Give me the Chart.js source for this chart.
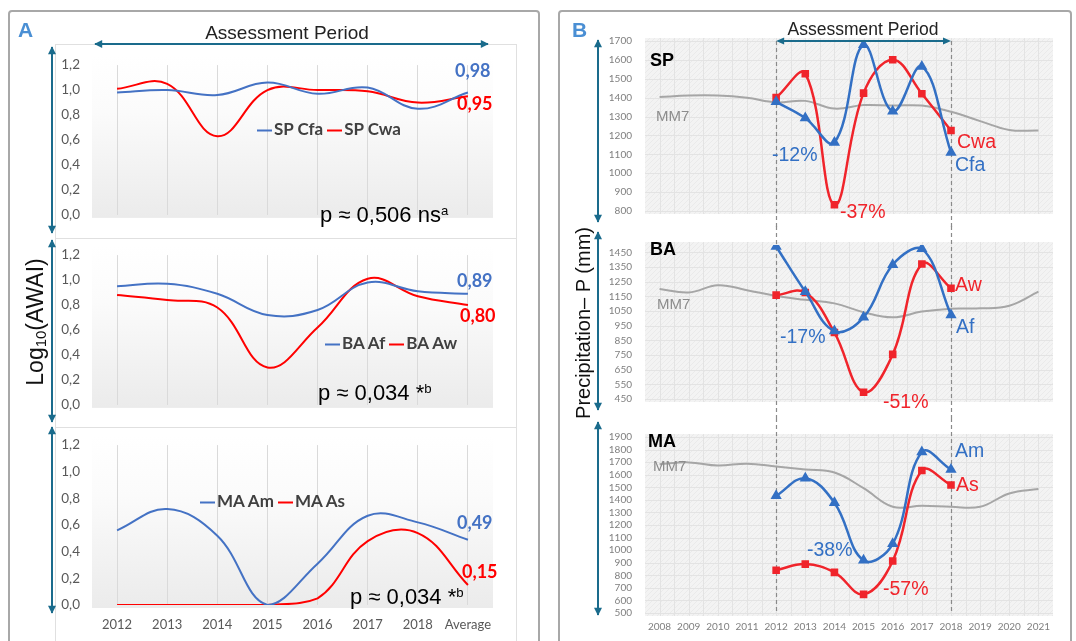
<!DOCTYPE html>
<html>
<head>
<meta charset="utf-8">
<script src="https://cdn.jsdelivr.net/npm/chart.js@4.4.1/dist/chart.umd.min.js"></script>
<style>
body{margin:0;background:#fff;}
#page{position:relative;width:1076px;height:641px;overflow:hidden;font-family:"Liberation Sans",Arial,sans-serif;}
canvas,.t,.box,.panel{position:absolute;}
.panel{border:2px solid #a8a8a8;border-radius:4px;box-sizing:border-box;}
.box{border:1px solid #e0e0e0;box-sizing:border-box;}
.t{white-space:nowrap;line-height:1;transform:translateY(-50%);}
.c{transform:translate(-50%,-50%);}
.rot{transform:translate(-50%,-50%) rotate(-90deg);}
.lato{font-family:Lato,sans-serif;}
.leg{font-family:Lato,sans-serif;font-weight:700;font-size:17px;color:#404040;}
.leg i{display:inline-block;width:15px;height:2px;vertical-align:middle;margin:0 2px 0 4px;}
sup{font-size:0.6em;vertical-align:0.55em;}
sub{font-size:0.65em;vertical-align:-0.2em;}
.blueA{color:#4472c4}.redA{color:#ff0000}
.blueB{color:#3370c4}.redB{color:#f0242b}
</style>
</head>
<body>
<div id="page">
  <div class="panel" style="left:8px;top:10px;width:532px;height:645px"></div>
  <div class="panel" style="left:558px;top:10px;width:514px;height:645px"></div>
  <div class="box" style="left:55px;top:44px;width:462px;height:195px"></div>
  <div class="box" style="left:55px;top:238px;width:462px;height:190px"></div>
  <div class="box" style="left:55px;top:427px;width:462px;height:220px"></div>

  <canvas id="a1" width="470" height="190" style="left:50px;top:45px"></canvas>
  <canvas id="a2" width="470" height="190" style="left:50px;top:235px"></canvas>
  <canvas id="a3" width="470" height="215" style="left:50px;top:425px"></canvas>
  <canvas id="b1" width="470" height="212" style="left:600px;top:18px"></canvas>
  <canvas id="b2" width="470" height="192" style="left:600px;top:226px"></canvas>
  <canvas id="b3" width="470" height="222" style="left:600px;top:418px"></canvas>

  <svg width="1076" height="641" style="position:absolute;left:0;top:0">
    <defs>
      <marker id="ah" viewBox="0 0 10 10" refX="9" refY="5" markerUnits="userSpaceOnUse" markerWidth="9" markerHeight="8" orient="auto-start-reverse">
        <path d="M0,0 L10,5 L0,10 z" fill="#1a6b8c"/>
      </marker>
    </defs>
    <g stroke="#1a6b8c" stroke-width="2" marker-start="url(#ah)" marker-end="url(#ah)">
      <line x1="95" y1="44" x2="488" y2="44"/>
      <line x1="52" y1="47" x2="52" y2="233"/>
      <line x1="52" y1="240" x2="52" y2="422"/>
      <line x1="52" y1="427" x2="52" y2="613"/>
      <line x1="598" y1="40" x2="598" y2="222"/>
      <line x1="598" y1="232" x2="598" y2="410"/>
      <line x1="598" y1="422" x2="598" y2="615"/>
    </g>
  </svg>

  <div class="t" style="left:18px;top:29px;font-weight:700;font-size:21px;color:#4a8fd4">A</div>
  <div class="t" style="left:572px;top:29px;font-weight:700;font-size:21px;color:#4a8fd4">B</div>
  <div class="t c" style="left:287px;top:32px;font-size:19px;color:#222">Assessment Period</div>
  <div class="t c" style="left:863px;top:30px;font-size:17.5px;color:#222">Assessment Period</div>
  <div class="t rot" style="left:36px;top:322px;font-size:23px;color:#111">Log<sub>10</sub>(AWAI)</div>
  <div class="t rot" style="left:583px;top:323px;font-size:20px;color:#111">Precipitation– P (mm)</div>

  <div class="t leg" style="left:253px;top:128px"><i style="background:#4472c4"></i>SP Cfa<i style="background:#ff0000"></i>SP Cwa</div>
  <div class="t leg" style="left:321px;top:342px"><i style="background:#4472c4"></i>BA Af<i style="background:#ff0000"></i>BA Aw</div>
  <div class="t leg" style="left:196px;top:500px"><i style="background:#4472c4"></i>MA Am<i style="background:#ff0000"></i>MA As</div>

  <div class="t lato blueA" style="left:455px;top:70px;font-weight:700;font-size:18px">0,98</div>
  <div class="t lato redA" style="left:457px;top:103px;font-weight:700;font-size:18px">0,95</div>
  <div class="t lato blueA" style="left:457px;top:280px;font-weight:700;font-size:18px">0,89</div>
  <div class="t lato redA" style="left:460px;top:315px;font-weight:700;font-size:18px">0,80</div>
  <div class="t lato blueA" style="left:457px;top:522px;font-weight:700;font-size:18px">0,49</div>
  <div class="t lato redA" style="left:462px;top:571px;font-weight:700;font-size:18px">0,15</div>

  <div class="t" style="left:320px;top:215px;font-size:22px;color:#000">p ≈ 0,506 ns<sup>a</sup></div>
  <div class="t" style="left:318px;top:393px;font-size:22px;color:#000">p ≈ 0,034 *<sup>b</sup></div>
  <div class="t" style="left:350px;top:597px;font-size:22px;color:#000">p ≈ 0,034 *<sup>b</sup></div>

  <div class="t" style="left:650px;top:60px;font-weight:700;font-size:18px;color:#000">SP</div>
  <div class="t" style="left:650px;top:249px;font-weight:700;font-size:18px;color:#000">BA</div>
  <div class="t" style="left:648px;top:441px;font-weight:700;font-size:18px;color:#000">MA</div>
  <div class="t" style="left:656px;top:115px;font-size:15px;color:#8c8c8c">MM7</div>
  <div class="t" style="left:657px;top:303px;font-size:15px;color:#8c8c8c">MM7</div>
  <div class="t" style="left:653px;top:465px;font-size:15px;color:#8c8c8c">MM7</div>

  <div class="t blueB" style="left:772px;top:155px;font-size:19.5px">-12%</div>
  <div class="t redB" style="left:840px;top:212px;font-size:19.5px">-37%</div>
  <div class="t blueB" style="left:780px;top:337px;font-size:19.5px">-17%</div>
  <div class="t redB" style="left:883px;top:402px;font-size:19.5px">-51%</div>
  <div class="t blueB" style="left:807px;top:550px;font-size:19.5px">-38%</div>
  <div class="t redB" style="left:883px;top:589px;font-size:19.5px">-57%</div>
  <div class="t redB" style="left:957px;top:142px;font-size:19.5px">Cwa</div>
  <div class="t blueB" style="left:955px;top:165px;font-size:19.5px">Cfa</div>
  <div class="t redB" style="left:955px;top:285px;font-size:19.5px">Aw</div>
  <div class="t blueB" style="left:956px;top:327px;font-size:19.5px">Af</div>
  <div class="t blueB" style="left:955px;top:451px;font-size:19.5px">Am</div>
  <div class="t redB" style="left:956px;top:485px;font-size:19.5px">As</div>
</div>

<script>
// Panel A: log10(AWAI) per year
const yearsA = ['2012', '2013', '2014', '2015', '2016', '2017', '2018', 'Average'];
const spCfa = [0.98, 1.00, 0.96, 1.06, 0.97, 1.02, 0.85, 0.98];
const spCwa = [1.01, 1.05, 0.63, 1.00, 1.00, 0.99, 0.90, 0.95];
const baAf = [0.95, 0.97, 0.89, 0.72, 0.76, 0.98, 0.91, 0.89];
const baAw = [0.88, 0.84, 0.78, 0.30, 0.62, 1.01, 0.87, 0.80];
const maAm = [0.56, 0.72, 0.52, 0.00, 0.31, 0.67, 0.62, 0.49];
const maAs = [0.00, 0.00, 0.00, 0.00, 0.05, 0.48, 0.54, 0.15];
const ticksA = [0, 0.2, 0.4, 0.6, 0.8, 1.0, 1.2];

// Panel B: precipitation (mm)
const yearsB = ['2008', '2009', '2010', '2011', '2012', '2013', '2014', '2015', '2016', '2017', '2018', '2019', '2020', '2021'];
const spMM7 = [1403, 1411, 1411, 1399, 1375, 1383, 1342, 1361, 1358, 1358, 1325, 1276, 1229, 1226];
const spCfaP = [null, null, null, null, 1378, 1292, 1163, 1680, 1328, 1565, 1110, null, null, null];
const spCwaP = [null, null, null, null, 1400, 1527, 833, 1424, 1601, 1421, 1226, null, null, null];
const baMM7 = [1200, 1176, 1226, 1192, 1152, 1126, 1102, 1042, 1007, 1046, 1066, 1068, 1086, 1182];
const baAfP = [null, null, null, null, 1490, 1182, 913, 1007, 1365, 1475, 1023, null, null, null];
const baAwP = [null, null, null, null, 1158, 1176, 903, 496, 754, 1370, 1205, null, null, null];
const maMM7 = [1683, 1698, 1673, 1688, 1666, 1641, 1617, 1493, 1345, 1353, 1345, 1345, 1451, 1486];
const maAmP = [null, null, null, null, 1432, 1572, 1377, 919, 1050, 1780, 1641, null, null, null];
const maAsP = [null, null, null, null, 840, 889, 823, 648, 914, 1634, 1518, null, null, null];
const ticksSP = [800, 900, 1000, 1100, 1200, 1300, 1400, 1500, 1600, 1700];
const ticksBA = [450, 550, 650, 750, 850, 950, 1050, 1150, 1250, 1350, 1450];
const ticksMA = [500, 600, 700, 800, 900, 1000, 1100, 1200, 1300, 1400, 1500, 1600, 1700, 1800, 1900];
const periodStart = '2012', periodEnd = '2018';

Chart.defaults.animation = false;
Chart.defaults.font.family = 'Lato, "Liberation Sans", sans-serif';

const BLUE_A = '#4472c4', RED_A = '#ff0000';
const BLUE_B = '#3370c4', RED_B = '#f0242b', GRAY = '#a6a6a6', TEAL = '#1a6b8c';

// soft white-to-grey plot background of panel A
const bgA = {
  id: 'bgA',
  beforeDraw(chart) {
    const {ctx, chartArea: a} = chart;
    const top = a.top - 10, bot = a.bottom + 3;
    const gr = ctx.createLinearGradient(0, top, 0, bot);
    gr.addColorStop(0, '#ffffff');
    gr.addColorStop(0.35, '#fbfbfb');
    gr.addColorStop(1, '#ebebeb');
    ctx.save();
    ctx.fillStyle = gr;
    ctx.fillRect(a.left, top, a.right - a.left, bot - top);
    ctx.restore();
  }
};

// hatched grey plot background with a light grid for panel B
const hatch = document.createElement('canvas');
hatch.width = 5; hatch.height = 5;
(function () {
  const g = hatch.getContext('2d');
  g.fillStyle = '#f3f3f3'; g.fillRect(0, 0, 5, 5);
  g.strokeStyle = 'rgba(0,0,0,0.035)'; g.lineWidth = 1;
  g.beginPath(); g.moveTo(0, 5); g.lineTo(5, 0); g.stroke();
})();

const bgB = {
  id: 'bgB',
  beforeDraw(chart) {
    const {ctx, chartArea: a, scales: {x, y}} = chart;
    ctx.save();
    ctx.fillStyle = ctx.createPattern(hatch, 'repeat');
    ctx.fillRect(a.left, a.top - 3, a.right - a.left, a.bottom - a.top + 6);
    ctx.strokeStyle = '#e3e3e3';
    ctx.lineWidth = 1;
    ctx.beginPath();
    y.ticks.forEach(t => {
      const p = Math.round(y.getPixelForValue(t.value)) + 0.5;
      ctx.moveTo(a.left, p); ctx.lineTo(a.right, p);
    });
    const half = (x.getPixelForValue(1) - x.getPixelForValue(0)) / 2;
    for (let px = a.left + half; px < a.right - 1; px += half) {
      const p = Math.round(px) + 0.5;
      ctx.moveTo(p, a.top - 3); ctx.lineTo(p, a.bottom + 3);
    }
    ctx.stroke();
    ctx.restore();
  }
};

// dashed assessment-period bounds (and the arrow on the top chart)
const periodB = {
  id: 'periodB',
  beforeDatasetsDraw(chart, args, opts) {
    const {ctx, chartArea: a, scales: {x}} = chart;
    const x0 = Math.round(x.getPixelForValue(yearsB.indexOf(periodStart))) + 0.5;
    const x1 = Math.round(x.getPixelForValue(yearsB.indexOf(periodEnd))) + 0.5;
    const top = opts.fromTop ? 0 : a.top;
    const bot = opts.toBottom ? chart.height : a.bottom;
    ctx.save();
    ctx.strokeStyle = '#8a8a8a';
    ctx.lineWidth = 1.2;
    ctx.setLineDash([4, 3]);
    ctx.beginPath();
    ctx.moveTo(x0, top); ctx.lineTo(x0, bot);
    ctx.moveTo(x1, top); ctx.lineTo(x1, bot);
    ctx.stroke();
    ctx.restore();
  },
  afterDraw(chart, args, opts) {
    if (!opts.arrow) return;
    const {ctx, chartArea: a, scales: {x}} = chart;
    const x0 = x.getPixelForValue(yearsB.indexOf(periodStart));
    const x1 = x.getPixelForValue(yearsB.indexOf(periodEnd));
    const yy = a.top;
    ctx.save();
    ctx.strokeStyle = TEAL; ctx.fillStyle = TEAL; ctx.lineWidth = 1.8;
    ctx.beginPath(); ctx.moveTo(x0 + 4, yy); ctx.lineTo(x1 - 4, yy); ctx.stroke();
    ctx.beginPath();
    ctx.moveTo(x0, yy); ctx.lineTo(x0 + 8, yy - 3.5); ctx.lineTo(x0 + 8, yy + 3.5); ctx.closePath();
    ctx.moveTo(x1, yy); ctx.lineTo(x1 - 8, yy - 3.5); ctx.lineTo(x1 - 8, yy + 3.5); ctx.closePath();
    ctx.fill();
    ctx.restore();
  }
};

function chartA(id, blue, red, padTop, padBottom, showX) {
  new Chart(document.getElementById(id), {
    type: 'line',
    data: {
      labels: yearsA,
      datasets: [
        {data: blue, borderColor: BLUE_A, borderWidth: 2, pointRadius: 0, tension: 0.4},
        {data: red, borderColor: RED_A, borderWidth: 2, pointRadius: 0, tension: 0.4}
      ]
    },
    options: {
      responsive: false,
      layout: {padding: {top: padTop, right: 27, bottom: padBottom, left: 0}},
      plugins: {legend: {display: false}, tooltip: {enabled: false}},
      scales: {
        x: {
          offset: true,
          grid: {color: '#dadada', offset: false, drawTicks: false},
          border: {display: false},
          ticks: {display: showX, color: '#595959', font: {size: 13}, padding: 12, maxRotation: 0, autoSkip: false},
          afterFit: s => { s.height = showX ? 35 : 0; }
        },
        y: {
          min: 0, max: 1.2,
          grid: {display: false, drawTicks: false},
          border: {display: false},
          afterBuildTicks: s => { s.ticks = ticksA.map(v => ({value: v})); },
          ticks: {color: '#595959', font: {size: 13.5}, padding: 12, autoSkip: false,
                  callback: v => v.toFixed(1).replace('.', ',')},
          afterFit: s => { s.width = 42; }
        }
      }
    },
    plugins: [bgA]
  });
}

function chartB(id, mm7, blue, red, ticks, yMin, yMax, pad, showX, period) {
  new Chart(document.getElementById(id), {
    type: 'line',
    data: {
      labels: yearsB,
      datasets: [
        {data: blue, borderColor: BLUE_B, backgroundColor: BLUE_B, borderWidth: 2.5,
         pointStyle: 'triangle', pointRadius: 4, tension: 0.4},
        {data: red, borderColor: RED_B, backgroundColor: RED_B, borderWidth: 2.5,
         pointStyle: 'rect', pointRadius: 3.6, tension: 0.4},
        {data: mm7, borderColor: GRAY, borderWidth: 2, pointRadius: 0, tension: 0.4}
      ]
    },
    options: {
      responsive: false,
      layout: {padding: {top: pad[0], right: 17, bottom: pad[1], left: 0}},
      plugins: {legend: {display: false}, tooltip: {enabled: false}, periodB: period},
      scales: {
        x: {
          offset: true,
          grid: {display: false, drawTicks: false},
          border: {display: false},
          ticks: {display: showX, color: '#7f7f7f', font: {size: 10}, padding: 8, maxRotation: 0, autoSkip: false},
          afterFit: s => { s.height = showX ? 27 : 0; }
        },
        y: {
          min: yMin, max: yMax,
          grid: {display: false, drawTicks: false},
          border: {display: false},
          afterBuildTicks: s => { s.ticks = ticks.map(v => ({value: v})); },
          ticks: {color: '#7f7f7f', font: {size: 10}, padding: 13, autoSkip: false, callback: v => String(v)},
          afterFit: s => { s.width = 45; }
        }
      }
    },
    plugins: [bgB, periodB]
  });
}

chartA('a1', spCfa, spCwa, 10, 5, false);
chartA('a2', baAf, baAw, 13, 8, false);
chartA('a3', maAm, maAs, 10, 0, true);

chartB('b1', spMM7, spCfaP, spCwaP, ticksSP, 800, 1700, [23, 7], false, {arrow: true, toBottom: true});
chartB('b2', baMM7, baAfP, baAwP, ticksBA, 450, 1500, [11, 5], false, {fromTop: true, toBottom: true});
chartB('b3', maMM7, maAmP, maAsP, ticksMA, 500, 1900, [5, 0], true, {fromTop: true});
</script>
</body>
</html>
